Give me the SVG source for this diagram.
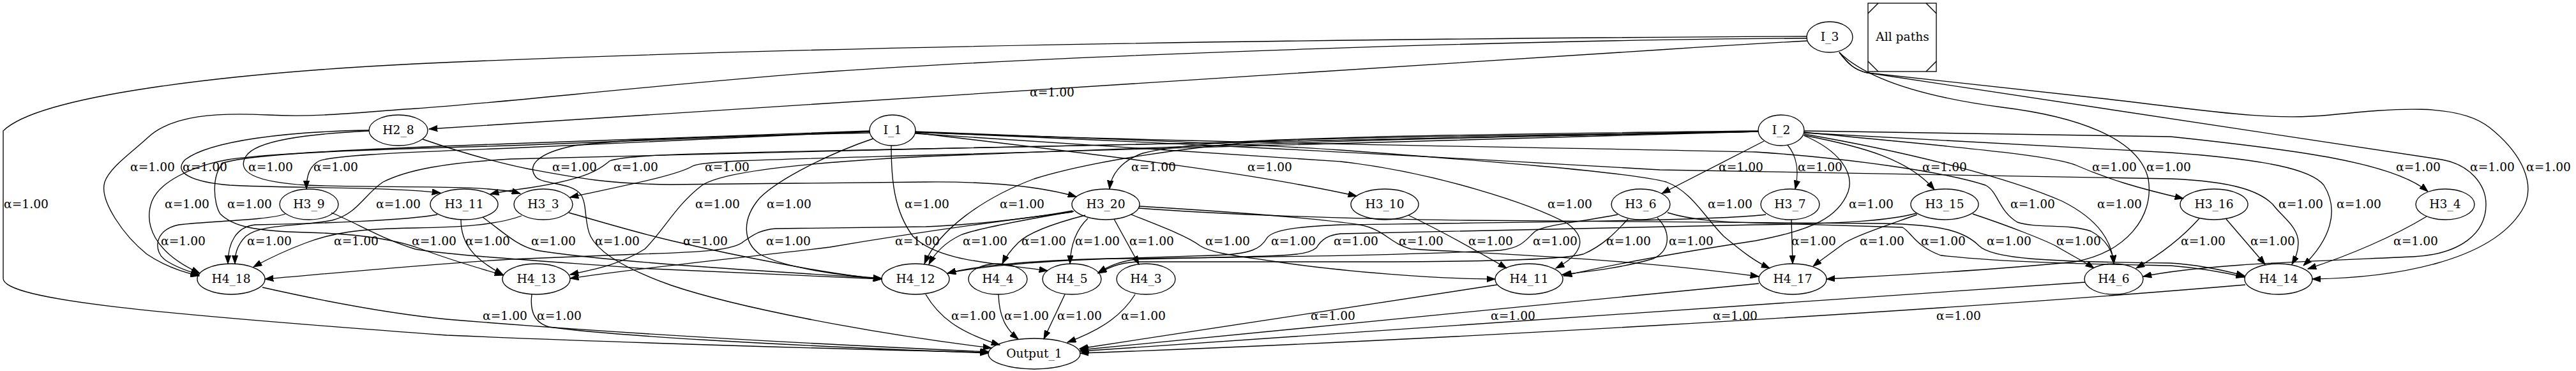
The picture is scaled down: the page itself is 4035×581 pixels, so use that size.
<svg xmlns="http://www.w3.org/2000/svg" width="4035" height="581" viewBox="0 0 4035 581">
<defs>
<style>
.n ellipse,.n rect{fill:none;stroke:#000;stroke-width:1.33}
.n line{stroke:#000;stroke-width:1.33}
text{font-family:"DejaVu Serif","Liberation Serif",serif;font-size:18.67px;text-anchor:middle;fill:#000}
#edges path{fill:none;stroke:#000;stroke-width:1.33;marker-end:url(#arr)}
</style>
<marker id="arr" markerUnits="userSpaceOnUse" markerWidth="14" markerHeight="10" refX="13.3" refY="5" orient="auto">
<path d="M0,0.3 L13.3,5 L0,9.7 Z" fill="#000" stroke="#000" stroke-width="1"/>
</marker>
</defs>
<rect width="4035" height="581" fill="#fff"/>
<g id="edges">
<g id="e1"><path d="M2831,64 Q2720,70 2600,78 L672,202"/><text x="1648" y="151">α=1.00</text></g>
<g id="e2"><path d="M2830,57 C2200,60 1300,70 650,100 C350,115 60,150 5,205 L5,436 C5,470 250,492 700,525 C1000,538 1300,546 1548,552"/><text x="41" y="326">α=1.00</text></g>
<g id="e3"><path d="M2831,60 C2400,62 1700,85 1300,112 C1000,135 800,160 650,170 C560,176 500,184 420,180 C340,176 270,180 232,215 C205,240 172,262 164,285 C155,315 195,370 230,398 C255,415 285,426 312,432"/><text x="239" y="268">α=1.00</text></g>
<g id="e4"><path d="M2881,82 C2920,120 3000,150 3136,168 C3250,182 3350,215 3365,280 C3375,340 3330,395 3250,410 C3100,425 2950,432 2861,437"/><text x="3397" y="268">α=1.00</text></g>
<g id="e5"><path d="M2881,82 C2895,100 2905,110 2925,114 L3825,250 C3870,258 3894,290 3894,320 C3894,365 3855,398 3780,402 C3600,410 3450,414 3357,433"/><text x="3904" y="268">α=1.00</text></g>
<g id="e6"><path d="M2881,82 C2895,100 2905,110 2925,114 L3300,155 C3450,172 3550,190 3650,180 C3750,170 3850,160 3900,200 C3950,240 3975,290 3950,330 C3900,410 3750,435 3622,437"/><text x="3992" y="268">α=1.00</text></g>
<g id="e7"><path d="M578,204 C450,206 330,220 290,250 C270,270 300,285 360,290 C450,295 600,292 690,302"/><text x="321" y="268">α=1.00</text></g>
<g id="e8"><path d="M578,205 C480,210 400,220 385,245 C370,270 400,285 480,290 C600,295 760,288 815,303"/><text x="424" y="268">α=1.00</text></g>
<g id="e9"><path d="M662,218 C720,238 780,255 830,265 C900,278 950,288 1050,289 L1450,285 C1550,284 1630,292 1686,308"/><text x="900" y="268">α=1.00</text></g>
<g id="e10"><path d="M1362,206 L800,232 C600,240 520,244 500,252 C485,260 480,275 480,296"/><text x="526" y="268">α=1.00</text></g>
<g id="e11"><path d="M1362,205 L800,225 C600,232 420,240 357,250 C300,260 250,285 238,315 C225,350 240,395 313,428"/><text x="293" y="326">α=1.00</text></g>
<g id="e12"><path d="M1362,206 L800,228 C550,235 400,240 350,255 C330,275 335,320 345,335 C365,355 400,362 480,364 C560,366 620,375 660,390 C700,405 750,420 788,431"/><text x="391" y="326">α=1.00</text></g>
<g id="e13"><path d="M1362,208 C1200,212 1000,215 900,228 C840,240 825,260 840,278 C855,290 895,285 910,305 C920,320 915,350 925,370 C940,400 990,425 1052,447 C1150,480 1350,520 1553,545"/><text x="967" y="384">α=1.00</text></g>
<g id="e14"><path d="M1368,217 C1300,240 1220,280 1190,310 C1160,345 1165,380 1190,398 C1230,420 1320,432 1381,436"/><text x="1236" y="326">α=1.00</text></g>
<g id="e15"><path d="M1396,228 C1396,280 1400,330 1430,370 C1470,410 1560,412 1641,424"/><text x="1452" y="326">α=1.00</text></g>
<g id="e16"><path d="M1434,208 C1700,240 1950,268 2125,307"/><text x="1989" y="268">α=1.00</text></g>
<g id="e17"><path d="M1433,209 C1700,225 1900,238 2100,253 C2250,270 2400,320 2455,350 C2490,375 2475,400 2437,420"/><text x="2459" y="326">α=1.00</text></g>
<g id="e18"><path d="M1434,206 C1800,220 2000,228 2100,235 C2300,250 2560,270 2610,285 C2650,300 2670,340 2700,370 C2730,395 2750,410 2772,420"/><text x="2710" y="326">α=1.00</text></g>
<g id="e19"><path d="M1434,207 C1800,222 2100,237 2600,266 L3400,280 C3500,284 3540,300 3560,320 C3575,340 3600,355 3600,380 C3600,395 3595,405 3590,414"/><text x="3604" y="326">α=1.00</text></g>
<g id="e20"><path d="M1434,207 C1900,225 2500,232 2750,238 C2900,248 3050,270 3110,290 C3130,300 3130,330 3160,348 C3190,358 3240,350 3275,362 C3300,375 3310,395 3311,413"/><text x="3184" y="326">α=1.00</text></g>
<g id="e21"><path d="M2754,205 C2500,208 2200,212 2100,216 C1950,220 1850,225 1790,240 C1755,252 1740,275 1738,296"/><text x="1807" y="268">α=1.00</text></g>
<g id="e22"><path d="M2754,206 L1350,235 C1100,240 980,242 955,252 C940,265 920,280 830,294 C800,298 785,300 768,304"/><text x="996" y="268">α=1.00</text></g>
<g id="e23"><path d="M2754,206 L1450,243 C1200,250 1100,252 1085,260 C1060,275 980,290 893,309"/><text x="1139" y="268">α=1.00</text></g>
<g id="e24"><path d="M2754,206 L1450,233 L800,249 C700,255 640,265 600,285 C570,305 560,335 520,345 C470,355 410,350 385,370 C370,385 368,400 368,413"/><text x="624" y="326">α=1.00</text></g>
<g id="e25"><path d="M2754,206 C2200,215 1700,235 1450,245 C1250,255 1130,270 1100,290 C1060,320 1040,360 1010,390 C970,415 930,422 893,430"/><text x="1124" y="326">α=1.00</text></g>
<g id="e26"><path d="M2754,206 C2400,212 2100,215 2000,220 C1850,230 1700,255 1620,280 C1540,310 1470,360 1448,413"/><text x="1601" y="326">α=1.00</text></g>
<g id="e27"><path d="M2763,221 L2603,303"/><text x="2727" y="268">α=1.00</text></g>
<g id="e28"><path d="M2800,227 C2815,245 2818,270 2812,296"/><text x="2851" y="268">α=1.00</text></g>
<g id="e29"><path d="M2826,212 C2920,230 2990,250 3030,297"/><text x="3046" y="268">α=1.00</text></g>
<g id="e30"><path d="M2826,207 C3000,225 3200,240 3250,258 C3300,280 3350,295 3420,311"/><text x="3312" y="268">α=1.00</text></g>
<g id="e31"><path d="M2826,205 L3400,214 C3600,235 3750,255 3803,300"/><text x="3788" y="268">α=1.00</text></g>
<g id="e32"><path d="M2825,212 C2880,235 2905,270 2895,300 C2880,340 2840,360 2750,377 C2600,400 2500,420 2449,432"/><text x="2931" y="326">α=1.00</text></g>
<g id="e33"><path d="M2826,210 C3000,240 3150,280 3230,315 C3290,345 3308,380 3311,413"/><text x="3320" y="326">α=1.00</text></g>
<g id="e34"><path d="M2826,208 L3400,239 C3550,250 3620,265 3640,290 C3665,330 3650,375 3608,416"/><text x="3695" y="326">α=1.00</text></g>
<g id="e35"><path d="M447,335 C420,345 330,346 280,352 C240,360 240,395 260,408 C275,418 295,425 312,430"/><text x="287" y="384">α=1.00</text></g>
<g id="e36"><path d="M685,336 C640,345 500,350 400,352 C370,355 357,380 357,413"/><text x="422" y="384">α=1.00</text></g>
<g id="e37"><path d="M817,338 C780,352 720,356 650,357 C560,358 520,365 480,380 C440,395 415,408 397,418"/><text x="558" y="384">α=1.00</text></g>
<g id="e38"><path d="M519,333 C560,350 600,375 650,390 C700,400 900,412 1000,420 L1381,437"/><text x="680" y="384">α=1.00</text></g>
<g id="e39"><path d="M722,344 C722,380 740,405 788,430"/><text x="764" y="384">α=1.00</text></g>
<g id="e40"><path d="M756,340 C790,365 810,385 840,392 C950,410 1200,425 1381,436"/><text x="867" y="384">α=1.00</text></g>
<g id="e41"><path d="M891,333 C950,350 1000,365 1052,377 C1150,400 1300,430 1381,437"/><text x="1105" y="384">α=1.00</text></g>
<g id="e43"><path d="M1680,330 C1600,345 1500,353 1450,355 L1215,358 C1190,360 1180,368 1165,378 C1150,392 1100,395 1000,398 L800,406 C650,415 500,430 415,437"/><text x="1235" y="384">α=1.00</text></g>
<g id="e44"><path d="M1680,332 C1550,348 1400,370 1300,387 C1150,405 1000,420 893,436"/><text x="1437" y="384">α=1.00</text></g>
<g id="e45"><path d="M1682,331 C1600,345 1530,358 1505,368 C1480,380 1465,395 1455,414"/><text x="1543" y="384">α=1.00</text></g>
<g id="e46"><path d="M1700,337 C1650,350 1610,365 1595,380 C1580,395 1574,405 1570,413"/><text x="1635" y="384">α=1.00</text></g>
<g id="e47"><path d="M1704,342 C1685,360 1677,385 1676,413"/><text x="1719" y="384">α=1.00</text></g>
<g id="e48"><path d="M1745,343 L1784,414"/><text x="1804" y="384">α=1.00</text></g>
<g id="e49"><path d="M1772,336 C1820,355 1860,370 1880,385 C1900,398 1950,402 2000,410 C2100,425 2250,437 2342,437"/><text x="1923" y="384">α=1.00</text></g>
<g id="e50"><path d="M1785,323 C1900,330 2050,340 2130,352 C2170,360 2175,380 2210,390 C2350,398 2550,405 2755,433"/><text x="2226" y="384">α=1.00</text></g>
<g id="e51"><path d="M1784,326 C1900,335 2100,343 2300,345 L2950,350 C3050,352 3080,365 3100,385 C3120,405 3200,410 3400,412 C3450,415 3490,425 3516,432"/><text x="3147" y="384">α=1.00</text></g>
<g id="e52"><path d="M2612,333 C2650,345 2700,348 2750,349 L2980,356 C2995,365 3000,385 3040,400 C3150,412 3300,414 3400,416 C3450,420 3490,428 3516,434"/><text x="3044" y="384">α=1.00</text></g>
<g id="e53"><path d="M2206,337 C2250,358 2300,385 2360,420"/><text x="2335" y="384">α=1.00</text></g>
<g id="e54"><path d="M2534,336 C2480,347 2420,352 2405,362 C2390,375 2385,388 2350,392 C2200,400 1900,404 1740,405 C1600,408 1520,418 1484,428"/><text x="2436" y="384">α=1.00</text></g>
<g id="e55"><path d="M2550,343 C2530,365 2510,385 2480,398 C2440,408 2300,410 2100,410 L1780,410 C1750,412 1735,420 1720,428"/><text x="2551" y="384">α=1.00</text></g>
<g id="e56"><path d="M2596,341 C2615,360 2620,390 2590,405 C2540,420 2480,426 2447,430"/><text x="2649" y="384">α=1.00</text></g>
<g id="e57"><path d="M2766,336 C2700,345 2400,348 2100,352 C2030,355 1995,360 1985,372 C1975,390 1960,398 1900,400 L1740,405 C1600,410 1520,420 1484,428"/><text x="2026" y="384">α=1.00</text></g>
<g id="e58"><path d="M3002,334 C2960,345 2900,350 2750,352 L2100,366 C2080,368 2070,375 2062,388 C2050,398 2030,400 1950,402 L1780,406 C1750,410 1735,418 1720,427"/><text x="2124" y="384">α=1.00</text></g>
<g id="e59"><path d="M2806,344 L2808,413"/><text x="2841" y="384">α=1.00</text></g>
<g id="e60"><path d="M3003,336 C2950,355 2910,368 2890,380 C2870,395 2855,405 2840,417"/><text x="2948" y="384">α=1.00</text></g>
<g id="e61"><path d="M3090,335 C3150,355 3200,375 3220,385 C3245,400 3265,410 3280,420"/><text x="3256" y="384">α=1.00</text></g>
<g id="e62"><path d="M3445,342 C3420,370 3390,395 3346,420"/><text x="3451" y="384">α=1.00</text></g>
<g id="e63"><path d="M3487,343 L3548,414"/><text x="3560" y="384">α=1.00</text></g>
<g id="e64"><path d="M3801,339 C3750,370 3680,400 3615,421"/><text x="3784" y="384">α=1.00</text></g>
<g id="e65"><path d="M411,450 C500,470 600,490 700,500 C1000,525 1300,540 1549,551"/><text x="791" y="501">α=1.00</text></g>
<g id="e66"><path d="M833,461 C830,485 835,505 860,512 C950,525 1200,540 1548,553"/><text x="876" y="501">α=1.00</text></g>
<g id="e67"><path d="M1450,461 C1470,495 1500,520 1566,540"/><text x="1525" y="501">α=1.00</text></g>
<g id="e68"><path d="M1564,461 C1565,495 1575,515 1595,531"/><text x="1608" y="501">α=1.00</text></g>
<g id="e69"><path d="M1668,461 L1635,531"/><text x="1691" y="501">α=1.00</text></g>
<g id="e70"><path d="M1778,461 C1760,490 1730,515 1672,536"/><text x="1791" y="501">α=1.00</text></g>
<g id="e71"><path d="M2345,446 L1691,546"/><text x="2088" y="501">α=1.00</text></g>
<g id="e72"><path d="M2755,444 L1692,548"/><text x="2370" y="501">α=1.00</text></g>
<g id="e73"><path d="M3266,442 L1692,550"/><text x="2718" y="501">α=1.00</text></g>
<g id="e74"><path d="M3517,446 C3000,490 2200,535 1692,553"/><text x="3068" y="501">α=1.00</text></g>
</g>
<g id="I_3" class="n"><ellipse cx="2866" cy="58" rx="36" ry="24"/><text x="2866" y="64">I_3</text></g>
<g id="AllPaths" class="n"><rect x="2926" y="5" width="107" height="107"/><line x1="2926" y1="21" x2="2942" y2="5"/><line x1="3017" y1="5" x2="3033" y2="21"/><line x1="2926" y1="96" x2="2942" y2="112"/><line x1="3017" y1="112" x2="3033" y2="96"/><text x="2980" y="64">All paths</text></g>
<g id="H2_8" class="n"><ellipse cx="624" cy="204" rx="46" ry="24"/><text x="624" y="210">H2_8</text></g>
<g id="I_1" class="n"><ellipse cx="1398" cy="204" rx="36" ry="24"/><text x="1398" y="210">I_1</text></g>
<g id="I_2" class="n"><ellipse cx="2790" cy="204" rx="36" ry="24"/><text x="2790" y="210">I_2</text></g>
<g id="H3_9" class="n"><ellipse cx="484" cy="320" rx="46" ry="24"/><text x="484" y="326">H3_9</text></g>
<g id="H3_11" class="n"><ellipse cx="727" cy="320" rx="53" ry="24"/><text x="727" y="326">H3_11</text></g>
<g id="H3_3" class="n"><ellipse cx="851" cy="320" rx="46" ry="24"/><text x="851" y="326">H3_3</text></g>
<g id="H3_20" class="n"><ellipse cx="1732" cy="320" rx="53" ry="24"/><text x="1732" y="326">H3_20</text></g>
<g id="H3_10" class="n"><ellipse cx="2169" cy="320" rx="53" ry="24"/><text x="2169" y="326">H3_10</text></g>
<g id="H3_6" class="n"><ellipse cx="2570" cy="320" rx="46" ry="24"/><text x="2570" y="326">H3_6</text></g>
<g id="H3_7" class="n"><ellipse cx="2804" cy="320" rx="46" ry="24"/><text x="2804" y="326">H3_7</text></g>
<g id="H3_15" class="n"><ellipse cx="3046" cy="320" rx="53" ry="24"/><text x="3046" y="326">H3_15</text></g>
<g id="H3_16" class="n"><ellipse cx="3468" cy="320" rx="53" ry="24"/><text x="3468" y="326">H3_16</text></g>
<g id="H3_4" class="n"><ellipse cx="3830" cy="320" rx="46" ry="24"/><text x="3830" y="326">H3_4</text></g>
<g id="H4_18" class="n"><ellipse cx="362" cy="437" rx="53" ry="24"/><text x="362" y="443">H4_18</text></g>
<g id="H4_13" class="n"><ellipse cx="840" cy="437" rx="53" ry="24"/><text x="840" y="443">H4_13</text></g>
<g id="H4_12" class="n"><ellipse cx="1434" cy="437" rx="53" ry="24"/><text x="1434" y="443">H4_12</text></g>
<g id="H4_4" class="n"><ellipse cx="1563" cy="437" rx="46" ry="24"/><text x="1563" y="443">H4_4</text></g>
<g id="H4_5" class="n"><ellipse cx="1679" cy="437" rx="46" ry="24"/><text x="1679" y="443">H4_5</text></g>
<g id="H4_3" class="n"><ellipse cx="1795" cy="437" rx="46" ry="24"/><text x="1795" y="443">H4_3</text></g>
<g id="H4_11" class="n"><ellipse cx="2395" cy="437" rx="53" ry="24"/><text x="2395" y="443">H4_11</text></g>
<g id="H4_17" class="n"><ellipse cx="2808" cy="437" rx="53" ry="24"/><text x="2808" y="443">H4_17</text></g>
<g id="H4_6" class="n"><ellipse cx="3311" cy="437" rx="46" ry="24"/><text x="3311" y="443">H4_6</text></g>
<g id="H4_14" class="n"><ellipse cx="3569" cy="437" rx="53" ry="24"/><text x="3569" y="443">H4_14</text></g>
<g id="Output_1" class="n"><ellipse cx="1620" cy="554" rx="72" ry="24"/><text x="1620" y="560">Output_1</text></g>
</svg>
